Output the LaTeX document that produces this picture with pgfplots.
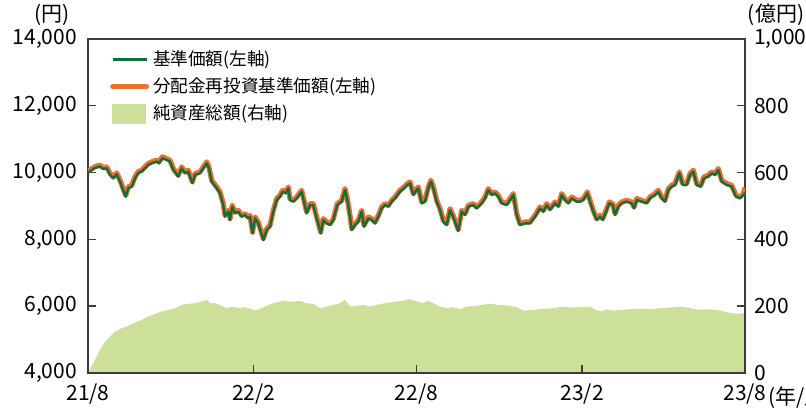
\documentclass[border=0pt]{standalone}
\usepackage{pgfplots}
\usepackage{pgfplotstable}
\pgfplotsset{compat=1.18}
\usepackage{fontspec}
\setmainfont{Noto Sans CJK JP}
\definecolor{navgreen}{RGB}{16,110,58}
\definecolor{navorange}{RGB}{238,112,50}
\definecolor{areagreen}{RGB}{205,224,154}
\definecolor{axgray}{RGB}{60,60,60}

% d = days since 2021/8 ; nav = 基準価額 ; re = 分配金再投資基準価額
\pgfplotstableread{
d nav re
0 10000 10040
7.8 10140 10180
13.3 10180 10220
17 10110 10150
20.8 10130 10170
24.4 9940 9980
28.1 9830 9870
31.9 9950 9990
35.6 9730 9770
41.9 9280 9320
44.8 9530 9570
48.6 9580 9620
52.2 9830 9870
55.9 9990 10030
59.7 10030 10070
63.3 10130 10170
67 10230 10270
70.8 10280 10320
76.3 10330 10370
78.9 10280 10320
82.6 10430 10470
87.4 10380 10420
91.1 10330 10370
94.8 10080 10120
100.3 9880 9920
104.1 10130 10170
107.8 9980 10020
111.4 10030 10070
115.9 9680 9720
118.9 9930 9970
124.4 9980 10020
128.1 10130 10170
131.9 10280 10320
134.4 10130 10170
137.4 9730 9770
143 9530 9570
146.7 9380 9420
150.3 9030 9070
152.2 8680 8720
155.9 8830 8870
157.8 8580 8620
160.3 8980 9020
163.3 8780 8820
167 8830 8870
170.8 8680 8720
174.4 8730 8770
178.1 8630 8670
180 8680 8720
182.8 8180 8220
185.6 8630 8670
189.2 8480 8520
194.8 7980 8020
198.6 8280 8320
202.2 8380 8420
205.9 8830 8870
209.7 9180 9220
213.3 9280 9320
216.3 9430 9470
220 9380 9420
222.6 9530 9570
224.4 9180 9220
228.1 9130 9170
231.9 9230 9270
237.4 9430 9470
240 9130 9170
243 8780 8820
246.7 9030 9070
250.3 9030 9070
254.1 8630 8670
258.6 8180 8220
261.4 8580 8620
265.2 8480 8520
268.9 8430 8470
272.6 8580 8620
277 9030 9070
281.9 9130 9170
285.6 9480 9520
288.1 9180 9220
291.1 8680 8720
293 8280 8320
296.7 8430 8470
300.3 8530 8570
304.1 8830 8870
306.7 8380 8420
311.4 8630 8670
315.2 8580 8620
318.9 8480 8520
322.6 8680 8720
326.3 8930 8970
330 9030 9070
333.7 8980 9020
337.4 9130 9170
341.1 9230 9270
346.7 9430 9470
351.1 9530 9570
354.8 9630 9670
357.8 9680 9720
361.4 9330 9370
365.2 9480 9520
367 9530 9570
370.8 9080 9120
374.4 9130 9170
378.1 9530 9570
381.1 9730 9770
383.7 9530 9570
387.4 9130 9170
391.1 8880 8920
394.8 8530 8570
398.6 8430 8470
402.2 8880 8920
404.8 8730 8770
407.8 8530 8570
411.4 8250 8290
415.2 8830 8870
418.9 8730 8770
422.6 8980 9020
428.1 9030 9070
431.9 8930 8970
437.4 9080 9120
441.1 9230 9270
444.8 9480 9520
448.6 9330 9370
452.2 9380 9420
455.9 9280 9320
459.7 9080 9120
465.2 9030 9070
468.9 9180 9220
472.6 9330 9370
476.3 8730 8770
480 8430 8470
485.6 8480 8520
491.1 8480 8520
496.7 8680 8720
502.2 8930 8970
505.9 8830 8870
509.7 9030 9070
513.3 8880 8920
518.9 9080 9120
522.6 8980 9020
526.3 9330 9370
530 9180 9220
533.7 9080 9120
537.4 9230 9270
543 9130 9170
546.7 9130 9170
550.3 9180 9220
554.8 9380 9420
557.8 9130 9170
561.4 8830 8870
565.2 8580 8620
568.9 8680 8720
571.9 8580 8620
575.6 8830 8870
579.2 9080 9120
583 9030 9070
585.6 8730 8770
589.2 8980 9020
593 9080 9120
598.6 9130 9170
604.1 9080 9120
606.7 8930 8970
609.7 9180 9220
615.2 9130 9170
620.8 9080 9120
624.4 9230 9270
630 9330 9370
633.7 9430 9470
637.4 9230 9270
641.1 9130 9170
644.8 9480 9520
648.6 9580 9620
652.2 9630 9670
657 9980 10020
660.8 9630 9670
665.2 9630 9670
668.9 9930 9970
672.6 10030 10070
676.3 9630 9670
680.8 9580 9620
684.4 9830 9870
689.2 9880 9920
693 9980 10020
696.7 9930 9970
700.3 10080 10120
704.1 9730 9770
709.7 9630 9670
715.2 9580 9620
720 9280 9320
724.4 9230 9270
728.1 9330 9370
730 9400 9550
}\navtable

% 純資産総額 (億円)
\pgfplotstableread{
d tna
0 0
7.8 39
13.3 69
18.9 94
24.4 109
30 124
37.4 134
44.8 141
52.2 151
59.7 159
67 169
74.4 177
81.9 184
89.2 189
96.7 194
104.1 204
111.4 207
118.9 209
124.4 213
131.9 219
135.6 210
141.1 209
148.6 201
154.1 194
159.7 199
167 194
174.4 197
181.9 191
185.6 187
193 194
200.3 204
207.8 210
217 216
226.3 213
235.6 216
243 209
250.3 207
257.8 194
265.2 199
272.6 204
280 209
285.6 219
291.1 199
298.6 201
305.9 204
313.3 199
320.8 204
330 209
339.2 213
348.6 216
357.8 221
367 213
372.6 209
378.1 216
383.7 209
391.1 199
398.6 194
405.9 197
413.3 191
420.8 199
431.9 201
444.8 207
457.8 204
468.9 201
476.3 197
483.7 187
494.8 189
505.9 192
517 194
526.3 199
535.6 196
546.7 197
557.8 199
565.2 187
570.8 184
576.3 191
583.7 187
591.1 189
602.2 191
613.3 193
624.4 191
635.6 194
646.7 196
657.8 199
668.9 194
680 189
691.1 191
702.2 187
713.3 180
720.8 177
728.9 179
730 179
}\tnatable

\pgfplotsset{
  every axis/.append style={
    scale only axis, width=328.5pt, height=167pt,
    xmin=0, xmax=730,
    tick align=inside, major tick length=4pt,
    tick style={axgray, line width=0.7pt},
    axis line style={axgray, line width=0.9pt},
    tick label style={font=\fontsize{10.5}{12}\selectfont},
    /pgf/number format/assume math mode=true,
    /pgf/number format/1000 sep={,},
  }
}

\begin{document}
\begin{tikzpicture}
% right axis: net assets area
\begin{axis}[
  at={(0,0)}, anchor=south west,
  ymin=0, ymax=1000, ytick={0,200,...,1000},
  axis y line*=right, hide x axis,
  scaled y ticks=false,
  yticklabel style={xshift=1pt},
]
\addplot[fill=areagreen, draw=none] table[x=d, y=tna] {\tnatable} \closedcycle;
\end{axis}
% left axis: NAV lines
\begin{axis}[
  name=main,
  at={(0,0)}, anchor=south west,
  ymin=4000, ymax=14000, ytick={4000,6000,...,14000},
  ytick pos=left, xtick pos=bottom,
  scaled y ticks=false,
  xtick={0,184,365,549,730},
  xticklabels={21/8,22/2,22/8,23/2,23/8},
  xticklabel style={yshift=-2pt},
  yticklabel style={xshift=-2pt},
  legend style={draw=none, fill=none, at={(0.024,0.99)}, anchor=north west,
    font=\fontsize{8.8}{10}\selectfont, row sep=0.6pt,
    /tikz/every even column/.append style={column sep=2pt}},
  legend cell align=left,
]
\addlegendimage{navgreen, line width=1.2pt}
\addlegendentry{基準価額(左軸)}
\addlegendimage{navorange, line width=2.4pt, line cap=round}
\addlegendentry{分配金再投資基準価額(左軸)}
\addlegendimage{legend image code/.code={\fill[areagreen] (0pt,-4.7pt) rectangle (16.5pt,4.7pt);}}
\addlegendentry{純資産総額(右軸)}
\addplot[navorange, line width=2.6pt, line join=round, forget plot] table[x=d, y=re] {\navtable};
\addplot[navgreen, line width=1.2pt, line join=round, forget plot] table[x=d, y=nav] {\navtable};
\end{axis}
\node[font=\fontsize{10.5}{12}\selectfont] at ([xshift=-18pt,yshift=12pt]main.north west) {(円)};
\node[font=\fontsize{10.5}{12}\selectfont] at ([xshift=15.5pt,yshift=12pt]main.north east) {(億円)};
\node[font=\fontsize{10.5}{12}\selectfont, anchor=base west, inner sep=0pt] at ([xshift=11.5pt,yshift=-16pt]main.south east) {(年/月)};
\pgfresetboundingbox
\path[use as bounding box] (-44pt,-19pt) rectangle (359pt,186.5pt);
\end{tikzpicture}
\end{document}
